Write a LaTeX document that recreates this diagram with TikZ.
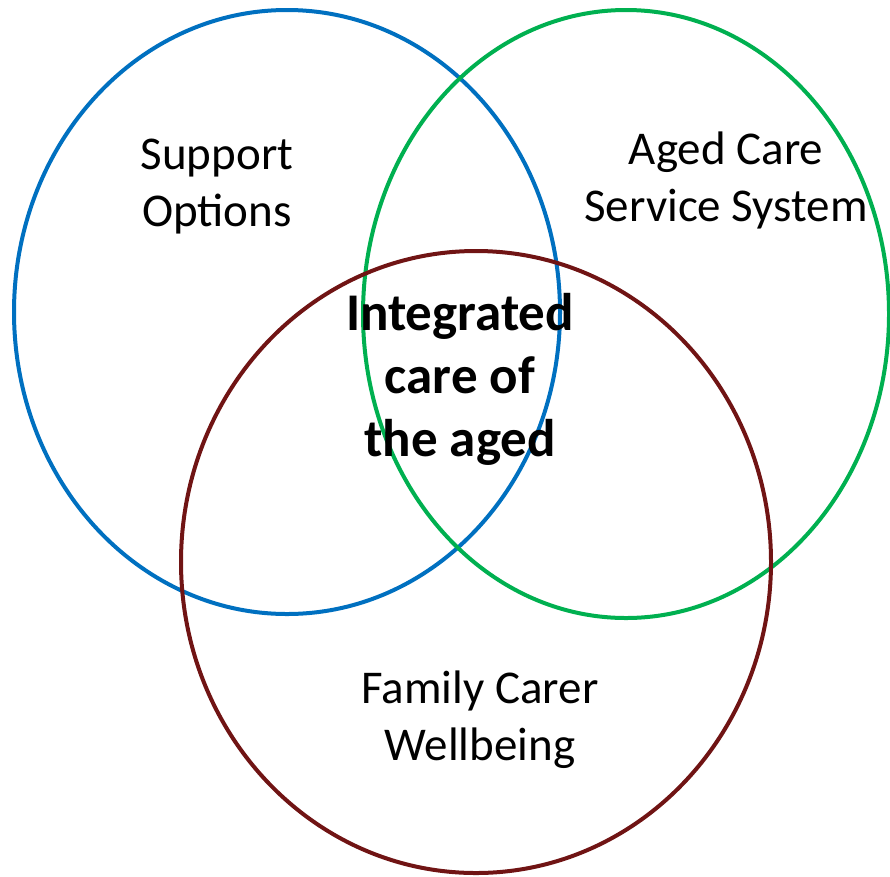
\documentclass[tikz,border=0pt]{standalone}
\usepackage{fontspec}
\setmainfont{Carlito}
\definecolor{cblue}{RGB}{0,112,192}
\definecolor{cgreen}{RGB}{0,176,80}
\definecolor{cred}{RGB}{112,20,20}
\begin{document}
\begin{tikzpicture}[x=1pt,y=-1pt,
  ring/.style={line width=4pt},
  lbl/.style={align=center,anchor=base,inner sep=0pt,font=\fontsize{47}{57}\selectfont},
  core/.style={align=center,anchor=base,inner sep=0pt,font=\bfseries\fontsize{53}{63}\selectfont}]
\useasboundingbox (0,0) rectangle (890,876);
\draw[ring,cblue] (287,312) ellipse [x radius=273, y radius=302];
\draw[ring,cgreen] (626,314) ellipse [x radius=263, y radius=304];
\draw[ring,cred] (476,562) ellipse [x radius=295, y radius=311];
\node[lbl] (support) at (217,226) {Support\\Options};
\node[lbl] (aged) at (726,221) {Aged Care\\Service System};
\node[core] (integ) at (460,456) {Integrated\\care of\\the aged};
\node[lbl] (family) at (480,760) {Family Carer\\Wellbeing};
\end{tikzpicture}
\end{document}
